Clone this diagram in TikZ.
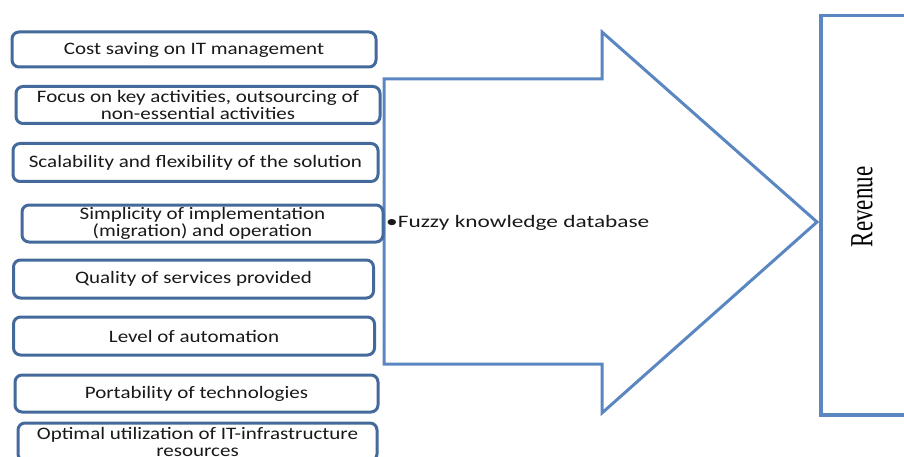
\documentclass[tikz,border=0pt]{standalone}
\usepackage{fontspec}
\setmainfont{Carlito}[FakeStretch=1.2]
\newfontfamily\revfont{Liberation Serif}
\definecolor{boxblue}{HTML}{44699B}
\definecolor{arrblue}{HTML}{5A87C2}
\begin{document}
\begin{tikzpicture}[x=1pt,y=-1pt,
  factor/.style={draw=boxblue, line width=3pt, rounded corners=7pt, fill=white,
    align=center, inner sep=0pt, font=\fontsize{17.5}{16.5}\selectfont, text=black!90},
  shape outline/.style={draw=arrblue, line width=3pt, line join=miter}]
\useasboundingbox (0,0) rectangle (904,457);
\clip (0,0) rectangle (904,457);
% arrow
\draw[shape outline] (384,79) -- (602,79) -- (602,32) -- (817,222) -- (602,413) -- (602,364) -- (384,364) -- cycle;
% revenue box
\node[draw=arrblue, line width=3.5pt, minimum width=110pt, minimum height=399pt, anchor=north west, inner sep=0pt] (rev) at (819,14) {};
\node[rotate=90, font=\revfont\fontsize{23}{23}\selectfont] (revtext) at (862,207) {\scalebox{1}[1.4]{Revenue}};
% factors
\node[factor, minimum width=364pt, minimum height=35pt] (f1) at (194,49.5) {Cost saving on IT management};
\node[factor, minimum width=364pt, minimum height=37pt] (f2) at (198,105) {Focus on key activities, outsourcing of\\non-essential activities};
\node[factor, minimum width=365pt, minimum height=38pt] (f3) at (195.5,162.5) {Scalability and flexibility of the solution};
\node[factor, minimum width=361pt, minimum height=37pt] (f4) at (202.5,223.5) {Simplicity of implementation\\(migration) and operation};
\node[factor, minimum width=360pt, minimum height=38pt] (f5) at (193.5,279) {Quality of services provided};
\node[factor, minimum width=361pt, minimum height=38pt] (f6) at (194,336) {Level of automation};
\node[factor, minimum width=363pt, minimum height=37pt] (f7) at (196.5,393.5) {Portability of technologies};
\node[factor, minimum width=359pt, minimum height=38pt] (f8) at (197.5,442) {Optimal utilization of IT-infrastructure\\resources};
% fuzzy
\node[anchor=west, inner sep=0pt, font=\fontsize{17.5}{17.5}\selectfont, text=black!90] (fuzzy) at (386,223) {\scalebox{1.11}[1]{\textbullet Fuzzy knowledge database}};
\end{tikzpicture}
\end{document}
